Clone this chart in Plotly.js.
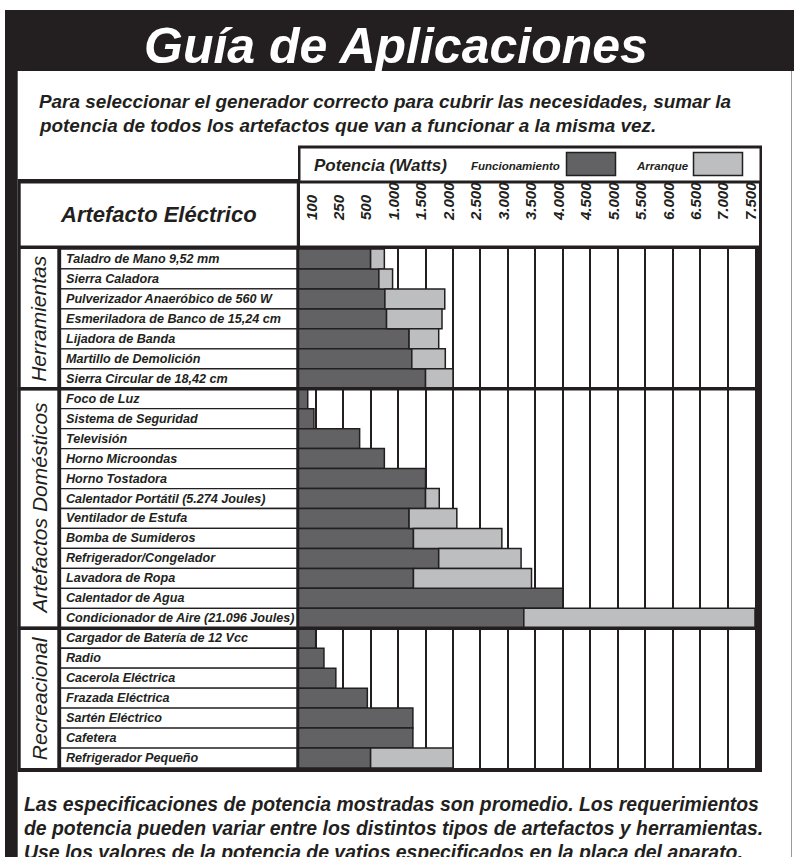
<!DOCTYPE html>
<html><head><meta charset="utf-8">
<script src="https://cdn.plot.ly/plotly-3.0.1.min.js"></script>
<style>html,body{margin:0;padding:0;background:#fff}#chart{width:794px;height:857px}</style>
</head><body><div id="chart"></div>
<script>
// ---------- DATA ----------
const sections = ['Herramientas', 'Artefactos Domésticos', 'Recreacional'];
const sectionSizes = [7, 12, 7];
const appliances = [
  'Taladro de Mano 9,52 mm', 'Sierra Caladora', 'Pulverizador Anaeróbico de 560 W',
  'Esmeriladora de Banco de 15,24 cm', 'Lijadora de Banda', 'Martillo de Demolición',
  'Sierra Circular de 18,42 cm',
  'Foco de Luz', 'Sistema de Seguridad', 'Televisión', 'Horno Microondas', 'Horno Tostadora',
  'Calentador Portátil (5.274 Joules)', 'Ventilador de Estufa', 'Bomba de Sumideros',
  'Refrigerador/Congelador', 'Lavadora de Ropa', 'Calentador de Agua',
  'Condicionador de Aire (21.096 Joules)',
  'Cargador de Batería de 12 Vcc', 'Radio', 'Cacerola Eléctrica', 'Frazada Eléctrica',
  'Sartén Eléctrico', 'Cafetera', 'Refrigerador Pequeño'
];
const runningWatts = [
  500, 650, 760, 790, 1200, 1250, 1500,
  55, 90, 400, 750, 1500, 1500, 1200, 1280, 1740, 1280, 4000, 3290,
  100, 145, 210, 470, 1270, 1270, 500
];
const startingWatts = [
  750, 900, 1850, 1800, 1740, 1860, 2000,
  null, null, null, null, null, 1750, 2070, 2890, 3240, 3430, null, 7500,
  null, null, null, null, null, null, 2000
];
const tickWatts = [100, 250, 500, 1000, 1500, 2000, 2500, 3000, 3500, 4000, 4500, 5000, 5500, 6000, 6500, 7000, 7500];
const tickLabels = ['100', '250', '500', '1.000', '1.500', '2.000', '2.500', '3.000', '3.500', '4.000',
  '4.500', '5.000', '5.500', '6.000', '6.500', '7.000', '7.500'];
const legendNames = ['Funcionamiento', 'Arranque'];

// ---------- STYLE ----------
const INK = '#231f20';
const DARK = '#626264';
const LIGHT = '#bcbec0';
const FONT = 'Liberation Sans, Arial, Helvetica, sans-serif';

// The chart uses evenly spaced columns for uneven wattage steps:
// the axis is in "column" units, each tick one column apart.
const ZERO_POS = -0.645;
function wattsToPos(w) {
  if (w <= tickWatts[0]) return ZERO_POS + (w / tickWatts[0]) * (0 - ZERO_POS);
  for (let i = 1; i < tickWatts.length; i++) {
    if (w <= tickWatts[i]) {
      return (i - 1) + (w - tickWatts[i - 1]) / (tickWatts[i] - tickWatts[i - 1]);
    }
  }
  return tickWatts.length - 1;
}
const tickPos = tickWatts.map(wattsToPos);

// ---------- TRACES ----------
const runningTrace = {
  type: 'bar', orientation: 'h', name: legendNames[0],
  y: appliances,
  base: appliances.map(() => ZERO_POS),
  x: runningWatts.map(w => wattsToPos(w) - ZERO_POS),
  marker: { color: DARK, line: { color: INK, width: 1.5 } },
  hoverinfo: 'skip', showlegend: false
};
const startingTrace = {
  type: 'bar', orientation: 'h', name: legendNames[1],
  y: appliances,
  base: runningWatts.map(w => wattsToPos(w)),
  x: startingWatts.map((s, i) => s == null ? null : wattsToPos(s) - wattsToPos(runningWatts[i])),
  marker: { color: LIGHT, line: { color: INK, width: 1.5 } },
  hoverinfo: 'skip', showlegend: false
};

// ---------- LAYOUT HELPERS ----------
const L = 298, R = 755, T = 249, B = 768;
const PX = x => (x - L) / (R - L);
const PY = y => (B - y) / (B - T);
function rectPx(x0, y0, x1, y1, fill, line, lw, layer) {
  return { type: 'rect', xref: 'paper', yref: 'paper', x0: PX(x0), x1: PX(x1), y0: PY(y1), y1: PY(y0),
    fillcolor: fill, line: { color: line || fill, width: lw || 0 }, layer: layer || 'below' };
}
function linePx(x0, y0, x1, y1, color, w, layer) {
  return { type: 'line', xref: 'paper', yref: 'paper', x0: PX(x0), x1: PX(x1), y0: PY(y0), y1: PY(y1),
    line: { color: color, width: w }, layer: layer || 'below' };
}
function textPx(x, y, text, size, opts) {
  opts = opts || {};
  return Object.assign({ xref: 'paper', yref: 'paper', x: PX(x), y: PY(y), text: text, showarrow: false,
    xanchor: 'center', yanchor: 'middle',
    font: { family: FONT, size: size, color: opts.color || INK, weight: opts.weight || 'bold', style: 'italic' } }, opts.extra || {});
}

const shapes = [];
const annotations = [];

// frame
shapes.push(rectPx(5, 10, 794, 857, INK));
shapes.push(rectPx(17.7, 71, 794, 857, '#ffffff'));
shapes.push(linePx(791.5, 71, 791.5, 857, '#9a9a9a', 1));
// table body
shapes.push(rectPx(17.7, 179, 762, 772, INK));
// legend header box
shapes.push(rectPx(298, 145.5, 762, 183, INK));
shapes.push(rectPx(300.5, 148.5, 759.5, 180.5, '#ffffff'));
// header cells
shapes.push(rectPx(20.7, 183.5, 296.8, 245.5, '#ffffff'));
shapes.push(rectPx(300, 183.5, 759, 245.5, '#ffffff'));
// plot area
shapes.push(rectPx(298, 249, 755, 768, '#ffffff'));

// section cells + labels
let start = 0;
sections.forEach((name, k) => {
  const n = sectionSizes[k];
  shapes.push({ type: 'rect', xref: 'paper', yref: 'y', x0: PX(20.7), x1: PX(57.3),
    y0: start - 0.5 + (k ? 0.08 : 0), y1: start + n - 0.5 - (k < sections.length - 1 ? 0.08 : 0),
    fillcolor: '#ffffff', line: { width: 0 }, layer: 'below' });
  annotations.push({ xref: 'paper', yref: 'y', x: PX(39), y: start + (n - 1) / 2, text: name,
    textangle: -90, showarrow: false, xanchor: 'center', yanchor: 'middle',
    font: { family: FONT, size: 21, color: INK, style: 'italic', weight: 'normal' } });
  if (k > 0) {
    shapes.push({ type: 'line', xref: 'paper', yref: 'y', x0: PX(17.7), x1: PX(762),
      y0: start - 0.5, y1: start - 0.5, line: { color: INK, width: 3.5 }, layer: 'above' });
  }
  start += n;
});

// row label cells
appliances.forEach((name, i) => {
  shapes.push({ type: 'rect', xref: 'paper', yref: 'y', x0: PX(60.5), x1: PX(297), y0: i - 0.5, y1: i + 0.5,
    fillcolor: '#ffffff', line: { color: INK, width: 1.3 }, layer: 'below' });
  annotations.push({ xref: 'paper', yref: 'y', x: PX(64), y: i, text: name, showarrow: false,
    xanchor: 'left', yanchor: 'middle',
    font: { family: FONT, size: 12.6, color: INK, weight: 'bold', style: 'italic' } });
});
// separator between label cells and plot
shapes.push(linePx(298, 249, 298, 768, INK, 2.5, 'above'));

// legend swatches
shapes.push(rectPx(566.5, 152.5, 615.5, 175.5, DARK, INK, 1.5));
shapes.push(rectPx(693.5, 152.5, 742.5, 175.5, LIGHT, INK, 1.5));

// texts
annotations.push(textPx(396, 46, 'Guía de Aplicaciones', 50, { color: '#ffffff' }));
annotations.push(textPx(37, 101, 'Para seleccionar el generador correcto para cubrir las necesidades, sumar la', 18.9, { extra: { xanchor: 'left' } }));
annotations.push(textPx(37, 125, 'potencia de todos los artefactos que van a funcionar a la misma vez.', 18.9, { extra: { xanchor: 'left' } }));
annotations.push(textPx(158, 214, 'Artefacto Eléctrico', 22));
annotations.push(textPx(312, 165, 'Potencia (Watts)', 17, { extra: { xanchor: 'left' } }));
annotations.push(textPx(469, 166, legendNames[0], 11.5, { extra: { xanchor: 'left' } }));
annotations.push(textPx(634, 166, legendNames[1], 11.5, { extra: { xanchor: 'left' } }));
annotations.push(textPx(22, 804, 'Las especificaciones de potencia mostradas son promedio. Los requerimientos', 19.4, { extra: { xanchor: 'left' } }));
annotations.push(textPx(22, 828, 'de potencia pueden variar entre los distintos tipos de artefactos y herramientas.', 19.4, { extra: { xanchor: 'left' } }));
annotations.push(textPx(22, 852, 'Use los valores de la potencia de vatios especificados en la placa del aparato.', 19.4, { extra: { xanchor: 'left' } }));

const layout = {
  width: 794, height: 857,
  margin: { l: L, r: 794 - R, t: T, b: 857 - B, pad: 0 },
  paper_bgcolor: '#ffffff', plot_bgcolor: '#ffffff',
  barmode: 'overlay', bargap: 0,
  showlegend: false,
  xaxis: {
    range: [ZERO_POS, tickWatts.length - 1], side: 'top',
    tickmode: 'array', tickvals: tickPos, ticktext: tickLabels,
    tickangle: -90, ticks: '', ticklabelstandoff: 28, ticklabelshift: -4,
    tickfont: { family: FONT, size: 15, color: INK, weight: 'bold', style: 'italic' },
    showgrid: true, gridcolor: INK, gridwidth: 2, zeroline: false, showline: false, fixedrange: true
  },
  yaxis: {
    type: 'category', categoryorder: 'array', categoryarray: appliances,
    range: [appliances.length - 0.5, -0.5],
    showticklabels: false, showgrid: false, zeroline: false, showline: false, ticks: '', fixedrange: true
  },
  shapes: shapes,
  annotations: annotations
};

Plotly.newPlot('chart', [runningTrace, startingTrace], layout, { displayModeBar: false, staticPlot: true });
</script>
</body></html>
